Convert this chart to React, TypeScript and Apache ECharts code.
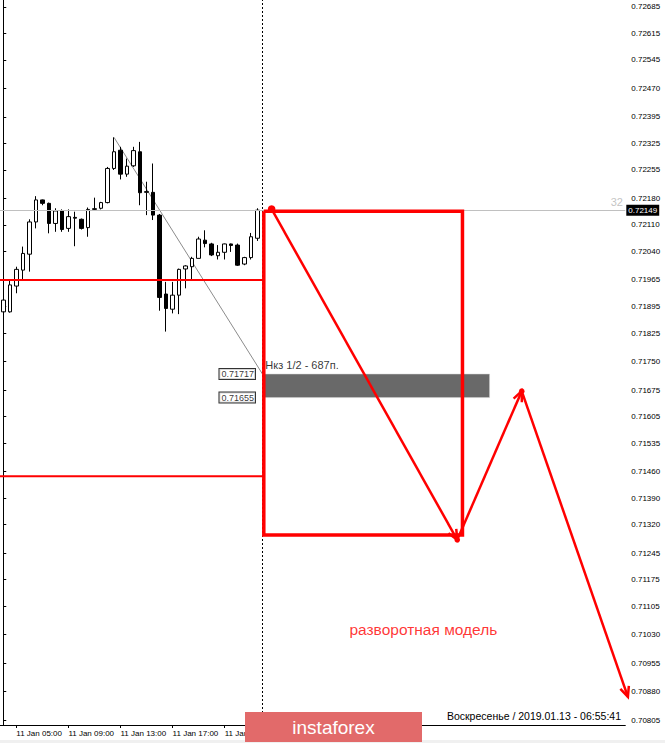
import React, { useEffect, useRef } from "react";
import * as echarts from "echarts";

// 30-minute bars, 11 Jan 2019
const candleTimes = [
  "11 Jan 04:00", "11 Jan 04:30", "11 Jan 05:00", "11 Jan 05:30", "11 Jan 06:00", "11 Jan 06:30",
  "11 Jan 07:00", "11 Jan 07:30", "11 Jan 08:00", "11 Jan 08:30", "11 Jan 09:00", "11 Jan 09:30",
  "11 Jan 10:00", "11 Jan 10:30", "11 Jan 11:00", "11 Jan 11:30", "11 Jan 12:00", "11 Jan 12:30",
  "11 Jan 13:00", "11 Jan 13:30", "11 Jan 14:00", "11 Jan 14:30", "11 Jan 15:00", "11 Jan 15:30",
  "11 Jan 16:00", "11 Jan 16:30", "11 Jan 17:00", "11 Jan 17:30", "11 Jan 18:00", "11 Jan 18:30",
  "11 Jan 19:00", "11 Jan 19:30", "11 Jan 20:00", "11 Jan 20:30", "11 Jan 21:00", "11 Jan 21:30",
  "11 Jan 22:00", "11 Jan 22:30", "11 Jan 23:00", "11 Jan 23:30",
];
const futureSlots = 56;
const xLabelTimes = ["11 Jan 05:00", "11 Jan 09:00", "11 Jan 13:00", "11 Jan 17:00", "11 Jan 21:00"];

const opens = [
  0.71881, 0.71881, 0.71949, 0.71991, 0.72033, 0.72118, 0.72176, 0.72167, 0.72114, 0.72147,
  0.72101, 0.7213, 0.72125, 0.72103, 0.72151, 0.72154, 0.72169, 0.72259, 0.72307, 0.72244,
  0.72266, 0.72303, 0.72196, 0.72196, 0.72136, 0.71928, 0.71888, 0.71925, 0.71994, 0.72,
  0.72022, 0.7207, 0.7206, 0.72029, 0.72038, 0.7206, 0.72057, 0.72007, 0.72024, 0.72075,
];
const closes = [
  0.71912, 0.71952, 0.71993, 0.72035, 0.72118, 0.72176, 0.72167, 0.72114, 0.72147, 0.72098,
  0.72132, 0.72128, 0.72101, 0.72151, 0.72153, 0.72169, 0.72259, 0.72303, 0.72244, 0.72265,
  0.72306, 0.72195, 0.72198, 0.72136, 0.71919, 0.7189, 0.71925, 0.71993, 0.72002, 0.72022,
  0.72073, 0.72061, 0.72031, 0.72038, 0.7206, 0.72056, 0.72004, 0.72024, 0.72079, 0.72149,
];
const lows = [
  0.71877, 0.71879, 0.7193, 0.71966, 0.71987, 0.72101, 0.72162, 0.72088, 0.72092, 0.72092,
  0.72092, 0.72054, 0.72098, 0.72079, 0.72147, 0.72151, 0.72167, 0.72255, 0.7223, 0.72237,
  0.72263, 0.72162, 0.72136, 0.72123, 0.71884, 0.71829, 0.71877, 0.71875, 0.71943, 0.71965,
  0.72022, 0.72051, 0.72028, 0.72019, 0.72019, 0.72039, 0.72002, 0.72004, 0.72019, 0.72068,
];
const highs = [
  0.71921, 0.71965, 0.72, 0.72053, 0.72125, 0.72186, 0.72177, 0.72169, 0.72154, 0.72151,
  0.72151, 0.72145, 0.72127, 0.72156, 0.72182, 0.72171, 0.72263, 0.72341, 0.72316, 0.72285,
  0.72316, 0.72329, 0.72224, 0.72272, 0.72139, 0.7196, 0.7196, 0.71995, 0.72004, 0.72026,
  0.72079, 0.72096, 0.72063, 0.72057, 0.72061, 0.72061, 0.72061, 0.72026, 0.72089, 0.72154,
];

const yTickLabels = [
  "0.72685", "0.72615", "0.72545", "0.72470", "0.72395", "0.72325", "0.72255", "0.72180", "0.72110",
  "0.72040", "0.71965", "0.71895", "0.71825", "0.71750", "0.71675", "0.71605", "0.71535", "0.71460",
  "0.71390", "0.71320", "0.71245", "0.71175", "0.71105", "0.71030", "0.70955", "0.70880", "0.70805",
];
const yMin = 0.70792;
const yMax = 0.72703;

const bidPrice = 0.72149;
const bidNote = "32";
const bidNoteIndex = 94.2;
const supportLevels = [0.71965, 0.71448];
const zoneTop = 0.71717;
const zoneBottom = 0.71655;
const zoneLabel = "Нкз 1/2 - 687п.";
// [bar index, price]
const trendLine = [[17, 0.72341], [39.8, 0.71717]];
const boxCorners = [[40, 0.72146], [70.5, 0.72146], [70.5, 0.71293], [40, 0.71293], [40, 0.72146]];
const zigzag = [[41.2, 0.72152], [69.7, 0.7128], [79.6, 0.71672], [95.9, 0.70866]];
const separatorIndex = 39.8;
const zoneEndIndex = 74.66;
const patternText = "разворотная модель";
const patternTextPos = [64.5, 0.71045];
const statusText = "Воскресенье / 2019.01.13 - 06:55:41";

const FONT = "Liberation Sans";

export default function App() {
  const ref = useRef<HTMLDivElement>(null);
  useEffect(() => {
    if (!ref.current) return;
    const chart = echarts.init(ref.current, null, { renderer: "svg" });
    const categories = candleTimes.concat(Array.from({ length: futureSlots }, () => ""));
    const nSlots = categories.length;
    const candleData = opens.map((o, i) => [o, closes[i], lows[i], highs[i]]);
    const red = "#ff0000";

    const option: any = {
      animation: false,
      backgroundColor: "#ffffff",
      textStyle: { fontFamily: FONT },
      grid: { left: -4.7, right: 39.7, top: 0, bottom: 18, containLabel: false },
      xAxis: [
        {
          type: "category",
          data: categories,
          boundaryGap: true,
          axisLine: { show: true, lineStyle: { color: "#000", width: 1 } },
          axisTick: {
            show: true,
            alignWithLabel: true,
            length: 3,
            interval: (i: number, v: string) => xLabelTimes.includes(v),
            lineStyle: { color: "#000" },
          },
          axisLabel: {
            show: true,
            interval: (i: number, v: string) => xLabelTimes.includes(v),
            align: "left",
            margin: 4,
            fontSize: 8,
            color: "#000",
            fontFamily: FONT,
          },
          splitLine: { show: false },
        },
        {
          type: "value",
          min: -0.5,
          max: nSlots - 0.5,
          show: false,
          splitLine: { show: false },
        },
      ],
      yAxis: [
        {
          type: "value",
          position: "right",
          min: yMin,
          max: yMax,
          scale: true,
          axisLine: { show: true, lineStyle: { color: "#000", width: 1 } },
          axisTick: {
            show: true,
            length: 3,
            customValues: yTickLabels.map(Number),
            lineStyle: { color: "#000" },
          },
          axisLabel: {
            show: true,
            customValues: yTickLabels.map(Number),
            formatter: (v: number) => v.toFixed(5),
            fontSize: 8,
            margin: 6,
            color: "#000",
            fontFamily: FONT,
          },
          splitLine: { show: false },
        },
      ],
      series: [
        {
          type: "line",
          name: "bid",
          xAxisIndex: 1,
          yAxisIndex: 0,
          data: trendLine,
          symbol: "none",
          lineStyle: { color: "#8c8c8c", width: 1 },
          z: 1,
          markLine: {
            silent: true,
            precision: 5,
            symbol: ["none", "none"],
            data: [
              {
                yAxis: bidPrice,
                lineStyle: { color: "#c0c0c0", width: 1, type: "solid" },
                label: {
                  show: true,
                  position: "end",
                  distance: 1,
                  formatter: bidPrice.toFixed(5),
                  backgroundColor: "#000",
                  color: "#fff",
                  fontSize: 8,
                  padding: [2, 2, 1, 2],
                  fontFamily: FONT,
                },
              },
              {
                xAxis: separatorIndex,
                lineStyle: { color: "#000", width: 1, type: [2, 2] },
                label: { show: false },
              },
            ],
          },
        },
        {
          type: "candlestick",
          xAxisIndex: 0,
          yAxisIndex: 0,
          data: candleData,
          barWidth: 4,
          itemStyle: {
            color: "#ffffff",
            color0: "#000000",
            borderColor: "#000000",
            borderColor0: "#000000",
            borderWidth: 1,
          },
          z: 2,
        },
        ...supportLevels.map((p) => ({
          type: "line",
          xAxisIndex: 1,
          yAxisIndex: 0,
          data: [[-1, p], [separatorIndex, p]],
          symbol: "none",
          lineStyle: { color: red, width: 2 },
          z: 3,
        })),
        {
          type: "custom",
          xAxisIndex: 1,
          yAxisIndex: 0,
          z: 4,
          clip: false,
          data: zigzag.slice(1).map((pt, i) => [zigzag[i][0], zigzag[i][1], pt[0], pt[1]]),
          encode: { x: [0, 2], y: [1, 3] },
          renderItem: (params: any, api: any) => {
            const a = api.coord([api.value(0), api.value(1)]);
            const b = api.coord([api.value(2), api.value(3)]);
            const ang = Math.atan2(b[1] - a[1], b[0] - a[0]);
            const L = 11;
            const w = 0.42;
            const w1 = [b[0] - L * Math.cos(ang - w), b[1] - L * Math.sin(ang - w)];
            const w2 = [b[0] - L * Math.cos(ang + w), b[1] - L * Math.sin(ang + w)];
            return {
              type: "group",
              children: [
                {
                  type: "line",
                  shape: { x1: a[0], y1: a[1], x2: b[0], y2: b[1] },
                  style: { stroke: red, lineWidth: 2.5 },
                },
                {
                  type: "polyline",
                  shape: { points: [w1, b, w2] },
                  style: { stroke: red, lineWidth: 2.5, fill: "none" },
                },
                {
                  type: "circle",
                  shape: { cx: a[0], cy: a[1], r: params.dataIndex === 0 ? 3.8 : 2.8 },
                  style: { fill: red },
                },
              ],
            };
          },
        },
        {
          type: "line",
          xAxisIndex: 1,
          yAxisIndex: 0,
          data: [[separatorIndex, zoneTop]],
          symbol: "none",
          lineStyle: { width: 0 },
          z: 5,
          markArea: {
            silent: true,
            itemStyle: { color: "#696969", opacity: 1, borderColor: "#d0d0d0", borderWidth: 0.5 },
            data: [[{ coord: [40, zoneTop] }, { coord: [zoneEndIndex, zoneBottom] }]],
          },
        },
        {
          type: "line",
          xAxisIndex: 1,
          yAxisIndex: 0,
          data: boxCorners,
          symbol: "none",
          lineStyle: { color: red, width: 3.5, join: "miter" },
          z: 6,
        },
        {
          type: "scatter",
          xAxisIndex: 1,
          yAxisIndex: 0,
          symbolSize: 1,
          itemStyle: { color: "transparent" },
          z: 7,
          data: [
            {
              value: [separatorIndex, zoneTop],
              label: {
                show: true, position: "left", distance: 7, formatter: zoneTop.toFixed(5),
                fontSize: 9, color: "#000", backgroundColor: "#fff", borderColor: "#000",
                borderWidth: 1, padding: [1, 1, 0, 2], fontFamily: FONT,
              },
            },
            {
              value: [separatorIndex, zoneBottom],
              label: {
                show: true, position: "left", distance: 7, formatter: zoneBottom.toFixed(5),
                fontSize: 9, color: "#000", backgroundColor: "#fff", borderColor: "#000",
                borderWidth: 1, padding: [1, 1, 0, 2], fontFamily: FONT,
              },
            },
            {
              value: [40, zoneTop],
              label: {
                show: true, position: "right", distance: 1, offset: [0, -9],
                formatter: zoneLabel, fontSize: 11, color: "#000", fontFamily: FONT,
              },
            },
            {
              value: patternTextPos,
              label: {
                show: true, position: "inside", formatter: patternText,
                fontSize: 15.5, color: red, fontFamily: FONT,
              },
            },
            {
              value: [bidNoteIndex, bidPrice],
              label: {
                show: true, position: "top", distance: 2, formatter: bidNote,
                fontSize: 11, color: "#b4b4b4", fontFamily: FONT,
              },
            },
          ],
        },
      ],
      graphic: {
        elements: [
          {
            type: "rect",
            z: 100,
            shape: { x: 0, y: 740, width: 665, height: 3 },
            style: { fill: "#f0f0f0" },
          },
          {
            type: "text",
            z: 100,
            x: 621,
            y: 716,
            style: {
              text: statusText, fill: "#000", fontSize: 10.5, fontFamily: FONT,
              textAlign: "right", textVerticalAlign: "middle",
            },
          },
          {
            type: "rect",
            z: 100,
            shape: { x: 245, y: 712, width: 177, height: 30 },
            style: { fill: "#e26a6a" },
          },
          {
            type: "text",
            z: 101,
            x: 333.5,
            y: 727,
            style: {
              text: "instaforex", fill: "#fff", fontSize: 19, fontFamily: FONT,
              textAlign: "center", textVerticalAlign: "middle",
            },
          },
        ],
      },
    };
    chart.setOption(option);
    return () => chart.dispose();
  }, []);
  return (
    <div
      ref={ref}
      style={{ position: "absolute", left: 0, top: 0, width: 665, height: 743 }}
    />
  );
}
